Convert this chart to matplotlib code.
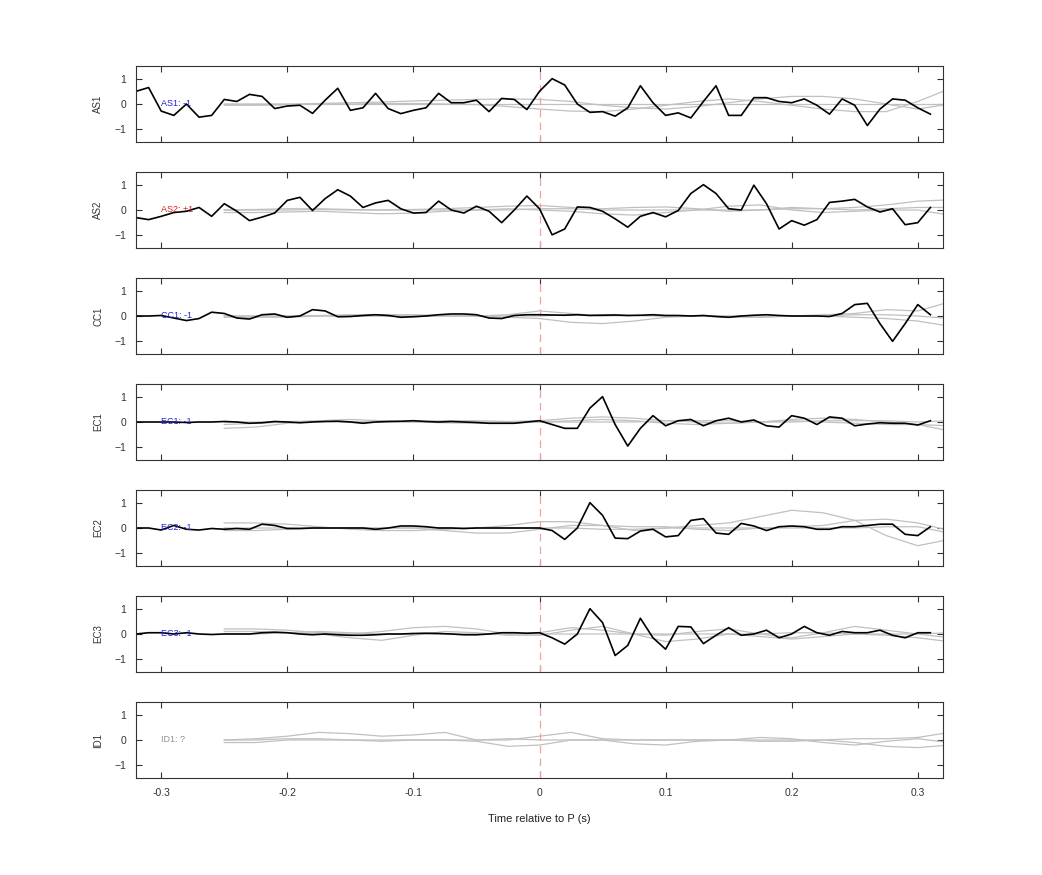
import numpy as np
import matplotlib.pyplot as plt

plt.rcParams['font.family'] = ['Liberation Sans', 'DejaVu Sans']

# time axes
t_black = np.round(np.arange(-0.32, 0.315, 0.01), 3)   # 64 samples
t_grey = np.round(np.arange(-0.25, 0.33, 0.025), 3)    # 24 samples

channels = ['AS1', 'AS2', 'CC1', 'EC1', 'EC2', 'EC3', 'ID1']
labels = ['AS1: -1', 'AS2: +1', 'CC1: -1', 'EC1: -1', 'EC2: -1', 'EC3: -1', 'ID1: ?']
label_colors = ['#2020d0', '#d02020', '#2020d0', '#2020d0', '#2020d0', '#2020d0', '#909090']

as1 = [0.5, 0.65, -0.28, -0.45, 0.0, -0.52, -0.45, 0.18, 0.1, 0.38, 0.3, -0.18, -0.08, -0.05, -0.37, 0.15,
       0.62, -0.25, -0.15, 0.42, -0.18, -0.38, -0.25, -0.15, 0.42, 0.05, 0.05, 0.15, -0.3, 0.22, 0.18, -0.22,
       0.5, 1.0, 0.75, 0.0, -0.33, -0.3, -0.48, -0.15, 0.72, 0.05, -0.45, -0.35, -0.55, 0.1, 0.72, -0.45,
       -0.45, 0.25, 0.25, 0.1, 0.05, 0.2, -0.05, -0.4, 0.2, -0.05, -0.85, -0.2, 0.2, 0.15, -0.15, -0.4]
as2 = [-0.3, -0.38, -0.25, -0.1, -0.05, 0.1, -0.25, 0.25, -0.05, -0.42, -0.28, -0.12, 0.38, 0.5, -0.02, 0.45,
       0.8, 0.55, 0.1, 0.28, 0.38, 0.05, -0.12, -0.1, 0.35, 0.0, -0.12, 0.15, -0.05, -0.5, 0.0, 0.55,
       0.05, -0.98, -0.75, 0.12, 0.1, -0.05, -0.35, -0.68, -0.25, -0.1, -0.27, -0.02, 0.65, 1.0, 0.65, 0.05,
       0.0, 0.98, 0.25, -0.75, -0.42, -0.6, -0.38, 0.3, 0.35, 0.42, 0.12, -0.08, 0.05, -0.58, -0.5, 0.1]
cc1 = [0.0, 0.0, 0.02, -0.08, -0.18, -0.1, 0.15, 0.1, -0.08, -0.12, 0.05, 0.08, -0.05, 0.0, 0.25, 0.2,
       -0.03, -0.02, 0.02, 0.05, 0.02, -0.05, -0.03, 0.0, 0.05, 0.08, 0.08, 0.05, -0.08, -0.1, 0.02, 0.05,
       0.05, 0.04, 0.03, 0.05, 0.02, 0.03, 0.04, 0.02, 0.03, 0.05, 0.02, 0.02, 0.0, 0.02, -0.02, -0.05,
       0.0, 0.03, 0.05, 0.02, 0.0, 0.0, 0.0, -0.02, 0.1, 0.45, 0.5, -0.3, -1.0, -0.3, 0.45, 0.05]
ec1 = [0.0, 0.0, 0.0, 0.0, -0.02, 0.0, 0.0, 0.02, 0.0, -0.05, -0.03, 0.02, 0.0, -0.03, 0.0, 0.02,
       0.03, 0.0, -0.05, 0.0, 0.02, 0.03, 0.05, 0.02, 0.0, 0.02, 0.0, -0.02, -0.05, -0.05, -0.05, 0.0,
       0.05, -0.1, -0.25, -0.25, 0.55, 1.0, -0.1, -0.95, -0.25, 0.25, -0.15, 0.05, 0.1, -0.15, 0.05, 0.15,
       0.0, 0.08, -0.15, -0.2, 0.25, 0.15, -0.1, 0.2, 0.15, -0.15, -0.08, -0.03, -0.05, -0.05, -0.12, 0.05]
ec2 = [0.0, 0.0, -0.08, 0.1, -0.05, -0.08, -0.02, -0.05, -0.02, -0.05, 0.15, 0.1, -0.02, -0.02, 0.0, 0.0,
       0.0, 0.0, 0.0, -0.05, 0.0, 0.08, 0.08, 0.05, 0.0, 0.0, -0.02, 0.0, 0.0, 0.0, 0.0, 0.0,
       0.0, -0.1, -0.45, 0.0, 1.0, 0.5, -0.4, -0.42, -0.12, -0.05, -0.35, -0.3, 0.3, 0.37, -0.2, -0.25,
       0.18, 0.08, -0.1, 0.05, 0.08, 0.05, -0.05, -0.05, 0.05, 0.05, 0.1, 0.15, 0.15, -0.25, -0.3, 0.05]
ec3 = [0.0, 0.05, 0.05, 0.0, 0.05, 0.0, -0.02, 0.0, 0.0, 0.0, 0.05, 0.07, 0.05, 0.0, -0.03, 0.0,
       -0.03, -0.05, -0.05, -0.03, 0.0, 0.0, 0.02, 0.03, 0.02, 0.0, -0.03, -0.03, 0.0, 0.05, 0.05, 0.03,
       0.05, -0.15, -0.4, 0.0, 1.0, 0.45, -0.85, -0.45, 0.62, -0.15, -0.6, 0.3, 0.28, -0.38, -0.05, 0.25,
       -0.05, 0.0, 0.15, -0.15, 0.0, 0.3, 0.05, -0.05, 0.1, 0.05, 0.05, 0.15, -0.05, -0.15, 0.05, 0.05]
black = [as1, as2, cc1, ec1, ec2, ec3, None]

# faint grey traces, one list per trace (24 samples each)
grey = [
    [[0.0, 0.0, 0.0, 0.02, 0.05, 0.08, 0.12, 0.15, 0.18, 0.2, 0.18, 0.1, -0.05, -0.15, -0.2, -0.1, 0.05, 0.2, 0.3, 0.3, 0.2, 0.0, -0.2, 0.0],
     [-0.05, -0.05, -0.03, 0.0, 0.0, 0.02, 0.02, 0.0, -0.02, -0.1, -0.2, -0.28, -0.3, -0.2, -0.05, 0.1, 0.2, 0.1, -0.05, -0.2, -0.3, -0.3, 0.1, 0.6],
     [0.0, 0.0, 0.0, 0.0, 0.0, 0.0, 0.0, 0.0, 0.0, 0.0, 0.0, 0.0, 0.0, 0.0, 0.0, 0.0, 0.0, 0.0, 0.0, 0.0, 0.0, 0.0, 0.0, 0.0]],
    [[0.0, 0.02, 0.05, 0.05, 0.02, 0.0, 0.02, 0.05, 0.1, 0.15, 0.18, 0.1, 0.05, 0.1, 0.12, 0.05, -0.05, 0.0, 0.1, 0.05, 0.1, 0.2, 0.35, 0.4],
     [-0.1, -0.1, -0.08, -0.05, -0.1, -0.15, -0.12, -0.05, 0.0, 0.05, 0.0, -0.05, -0.15, -0.2, -0.1, 0.0, 0.15, 0.2, 0.0, -0.1, -0.05, 0.0, 0.0, -0.2],
     [0.0, 0.0, 0.0, 0.02, 0.0, 0.0, 0.0, 0.0, 0.0, 0.0, 0.05, 0.05, 0.0, 0.0, 0.0, 0.0, 0.0, 0.0, 0.05, 0.05, 0.0, 0.05, 0.1, 0.1]],
    [[0.0, 0.0, 0.0, 0.02, 0.05, 0.05, 0.05, 0.02, 0.0, 0.05, 0.2, 0.1, 0.0, 0.02, 0.0, 0.0, 0.0, -0.05, 0.0, 0.05, 0.1, 0.25, 0.2, 0.55],
     [-0.05, -0.05, -0.05, 0.0, 0.0, 0.0, 0.0, 0.0, 0.0, -0.05, -0.1, -0.25, -0.3, -0.2, -0.05, 0.0, 0.0, 0.0, 0.0, 0.0, -0.05, -0.1, -0.2, -0.4],
     [0.0, 0.0, 0.0, 0.0, 0.0, 0.0, 0.0, 0.0, 0.0, 0.0, 0.0, 0.05, 0.05, 0.02, 0.0, 0.0, -0.05, -0.05, 0.0, 0.0, 0.05, 0.05, 0.0, -0.1]],
    [[-0.25, -0.2, -0.05, 0.05, 0.02, 0.0, 0.02, 0.05, 0.05, 0.02, 0.05, 0.15, 0.2, 0.15, 0.05, 0.0, -0.05, 0.0, 0.1, 0.15, 0.1, 0.0, -0.1, -0.35],
     [-0.1, -0.05, 0.0, 0.05, 0.1, 0.05, 0.0, -0.03, -0.05, -0.05, 0.0, 0.05, 0.1, 0.05, -0.05, -0.1, -0.05, 0.0, 0.05, 0.0, -0.05, -0.1, -0.1, -0.15],
     [0.0, 0.0, 0.02, 0.02, 0.0, 0.0, 0.0, 0.0, 0.0, 0.0, 0.0, 0.0, 0.0, 0.0, 0.05, 0.05, 0.05, 0.0, 0.0, 0.05, 0.05, 0.05, 0.0, 0.05]],
    [[0.2, 0.2, 0.15, 0.05, -0.05, -0.1, -0.1, -0.05, 0.0, 0.1, 0.25, 0.25, 0.1, -0.1, 0.0, 0.1, 0.2, 0.45, 0.7, 0.6, 0.3, -0.3, -0.7, -0.45],
     [-0.1, -0.1, -0.05, 0.0, 0.0, 0.0, 0.0, -0.1, -0.2, -0.2, -0.05, 0.1, 0.1, 0.05, 0.05, -0.05, -0.1, 0.0, 0.05, 0.1, 0.3, 0.35, 0.2, -0.1],
     [0.0, 0.0, 0.0, 0.0, 0.0, 0.0, 0.0, 0.0, 0.0, 0.0, 0.0, 0.0, -0.05, -0.05, 0.0, 0.0, 0.0, 0.0, 0.0, 0.0, 0.0, 0.05, 0.05, -0.2]],
    [[0.2, 0.2, 0.15, 0.05, 0.0, 0.1, 0.25, 0.3, 0.2, 0.0, 0.05, 0.25, 0.15, 0.0, -0.05, 0.1, 0.2, 0.0, -0.15, 0.05, 0.3, 0.15, 0.0, -0.15],
     [0.1, 0.1, 0.05, 0.0, -0.15, -0.25, -0.05, 0.1, 0.05, -0.05, -0.05, 0.15, 0.3, 0.0, -0.3, -0.2, 0.0, -0.1, -0.2, -0.1, 0.0, -0.05, -0.15, -0.3],
     [0.0, 0.0, 0.05, 0.1, 0.05, 0.0, 0.0, 0.0, 0.0, 0.0, 0.0, 0.0, 0.0, 0.0, 0.0, 0.0, 0.0, 0.0, 0.05, 0.05, 0.0, 0.0, 0.0, 0.05]],
    [[0.0, 0.05, 0.15, 0.3, 0.25, 0.15, 0.2, 0.3, 0.0, 0.0, 0.15, 0.3, 0.05, 0.0, 0.0, 0.0, 0.0, 0.0, 0.0, 0.0, 0.05, 0.05, 0.1, 0.3],
     [0.0, 0.0, 0.05, 0.05, 0.0, 0.0, 0.0, 0.0, -0.05, -0.25, -0.2, 0.0, 0.0, -0.15, -0.2, -0.05, 0.0, 0.1, 0.05, -0.1, -0.2, -0.05, 0.05, -0.1],
     [-0.1, -0.1, 0.0, 0.0, 0.0, -0.05, 0.0, 0.0, 0.0, 0.05, 0.0, 0.0, 0.0, 0.0, 0.0, 0.0, 0.0, -0.05, -0.05, 0.0, -0.1, -0.25, -0.3, -0.2]],
]

fig = plt.figure(figsize=(10.42, 8.75), dpi=100)
for i, ch in enumerate(channels):
    top = 66 + 106 * i
    ax = fig.add_axes([136 / 1042, 1 - (top + 76) / 875, 807 / 1042, 76 / 875])
    for g in grey[i]:
        ax.plot(t_grey, g, color='#c0c0c0', lw=0.9)
    ax.plot([0, 0], [-1.5, 1.5], color='#f4a0a0', lw=0.9, dashes=(6, 4))
    if black[i] is not None:
        ax.plot(t_black, black[i], color='black', lw=1.2)
    ax.text(-0.30, 0, labels[i], color=label_colors[i], fontsize=6.5, va='center')
    ax.set_xlim(-0.32, 0.32)
    ax.set_ylim(-1.5, 1.5)
    ax.set_yticks([-1, 0, 1])
    ax.set_xticks([-0.3, -0.2, -0.1, 0, 0.1, 0.2, 0.3])
    ax.tick_params(direction='in', top=True, right=True, labelsize=7.5, length=4,
                   pad=7, labelcolor='#333333', color='#333333')
    for s in ax.spines.values():
        s.set_color('#333333')
    ax.set_ylabel(ch, fontsize=7, labelpad=8, color='#333333')
    if i < len(channels) - 1:
        ax.set_xticklabels([])
    else:
        ax.set_xticklabels(['-0.3', '-0.2', '-0.1', '0', '0.1', '0.2', '0.3'])
        ax.set_xlabel('Time relative to P (s)', fontsize=8, labelpad=12, color='#222222')

fig.savefig('out.png', dpi=100)
